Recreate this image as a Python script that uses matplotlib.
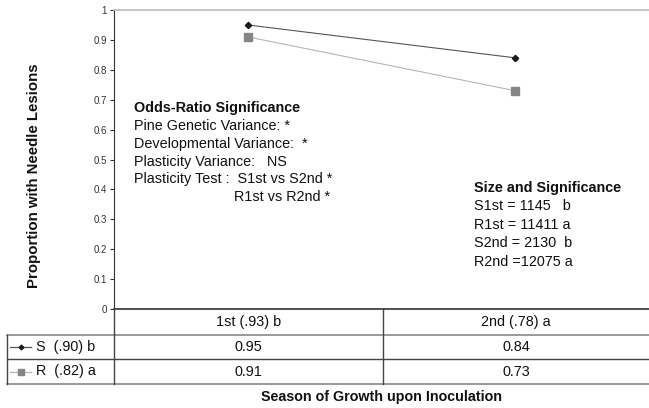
import matplotlib.pyplot as plt
from matplotlib.lines import Line2D

plt.rcParams['font.family'] = ['Liberation Sans', 'DejaVu Sans']

seasons = ['1st (.93) b', '2nd (.78) a']
series_names = ['S  (.90) b', 'R  (.82) a']
s_values = [0.95, 0.84]
r_values = [0.91, 0.73]
yticks = [0, 0.1, 0.2, 0.3, 0.4, 0.5, 0.6, 0.7, 0.8, 0.9, 1]
ytick_labels = ['0', '0.1', '0.2', '0.3', '0.4', '0.5', '0.6', '0.7', '0.8', '0.9', '1']

odds_lines = ['Pine Genetic Variance: *',
              'Developmental Variance:  *',
              'Plasticity Variance:   NS',
              'Plasticity Test :  S1st vs S2nd *',
              '                         R1st vs R2nd *']
size_lines = ['S1st = 1145   b', 'R1st = 11411 a', 'S2nd = 2130  b', 'R2nd =12075 a']

W, H = 649, 408
FS = 10.4
fig = plt.figure(figsize=(W / 100, H / 100), dpi=100)

# pixel layout helpers
def fx(px):
    return px / W

def fy(py):
    return 1 - py / H

left, right, top, zero = 114, 649, 10, 309
ax = fig.add_axes([fx(left), fy(zero), fx(right - left), (zero - top) / H])

styles = [dict(color='#555555', marker='D', markersize=3.2, mfc='#1a1a1a', mec='#1a1a1a', lw=0.8),
          dict(color='#b5b5b5', marker='s', markersize=5.5, mfc='#858585', mec='#858585', lw=0.8)]
xpos = [0, 1]
ax.plot(xpos, s_values, **styles[0])
ax.plot(xpos, r_values, **styles[1])

ax.set_xlim(-0.5, 1.5)
ax.set_ylim(0, 1)
ax.set_yticks(yticks)
ax.set_yticklabels(ytick_labels, fontsize=7, color='#333333')
ax.tick_params(axis='y', length=3, width=0.8, color='#333333', pad=2)
ax.set_xticks([])
ax.spines['right'].set_visible(False)
ax.spines['top'].set_color('#bbbbbb')
ax.spines['top'].set_linewidth(1.2)
ax.spines['left'].set_color('#333333')
ax.spines['bottom'].set_color('#333333')
ax.spines['bottom'].set_linewidth(1.2)

fig.text(fx(34), fy(176), 'Proportion with Needle Lesions', fontsize=10.8,
         fontweight='bold', rotation=90, ha='center', va='center', color='#111111')

# annotation blocks
fig.text(fx(134), fy(108), 'Odds-Ratio Significance', fontsize=FS, fontweight='bold',
         va='center', color='#111111')
for i, t in enumerate(odds_lines):
    fig.text(fx(134), fy(126 + 17.8 * i), t, fontsize=FS, va='center', color='#111111')

fig.text(fx(474), fy(188), 'Size and Significance', fontsize=FS, fontweight='bold',
         va='center', color='#111111')
for i, t in enumerate(size_lines):
    fig.text(fx(474), fy(206 + 18.5 * i), t, fontsize=FS, va='center', color='#111111')

# data table under the axis
rows_y = [309, 335, 359, 384]
col_x = [7, 114, 383, 649]
dark, grey = '#444444', '#888888'

def hline(y, x0, x1, color, lw=1.0):
    fig.add_artist(Line2D([fx(x0), fx(x1)], [fy(y), fy(y)], color=color, lw=lw))

def vline(x, y0, y1, color, lw=1.0):
    fig.add_artist(Line2D([fx(x), fx(x)], [fy(y0), fy(y1)], color=color, lw=lw))

hline(rows_y[1], 7, 649, grey, 1.2)
hline(rows_y[2], 7, 649, dark, 1.0)
hline(rows_y[3], 7, 649, grey, 1.2)
vline(7, rows_y[1], rows_y[3], dark)
vline(114, 309, rows_y[3], dark)
vline(383, 309, rows_y[3], dark)

for j, s in enumerate(seasons):
    cx = (col_x[j + 1] + col_x[j + 2]) / 2
    fig.text(fx(cx), fy(322), s, fontsize=FS, ha='center', va='center', color='#111111')

for i, (name, vals) in enumerate(zip(series_names, [s_values, r_values])):
    cy = (rows_y[i + 1] + rows_y[i + 2]) / 2
    st = styles[i]
    fig.add_artist(Line2D([fx(10), fx(31)], [fy(cy), fy(cy)], color=st['color'], lw=0.9))
    fig.add_artist(Line2D([fx(20.5)], [fy(cy)], marker=st['marker'],
                          markersize=st['markersize'] * 0.75, mfc=st['mfc'], mec=st['mec']))
    fig.text(fx(36), fy(cy), name, fontsize=FS, va='center', color='#111111')
    for j, v in enumerate(vals):
        cx = (col_x[j + 1] + col_x[j + 2]) / 2
        fig.text(fx(cx), fy(cy), f'{v:.2f}', fontsize=FS, ha='center', va='center',
                 color='#111111')

fig.text(fx(381), fy(397), 'Season of Growth upon Inoculation', fontsize=10.3,
         fontweight='bold', ha='center', va='center', color='#111111')

fig.savefig('out.png', dpi=100)
